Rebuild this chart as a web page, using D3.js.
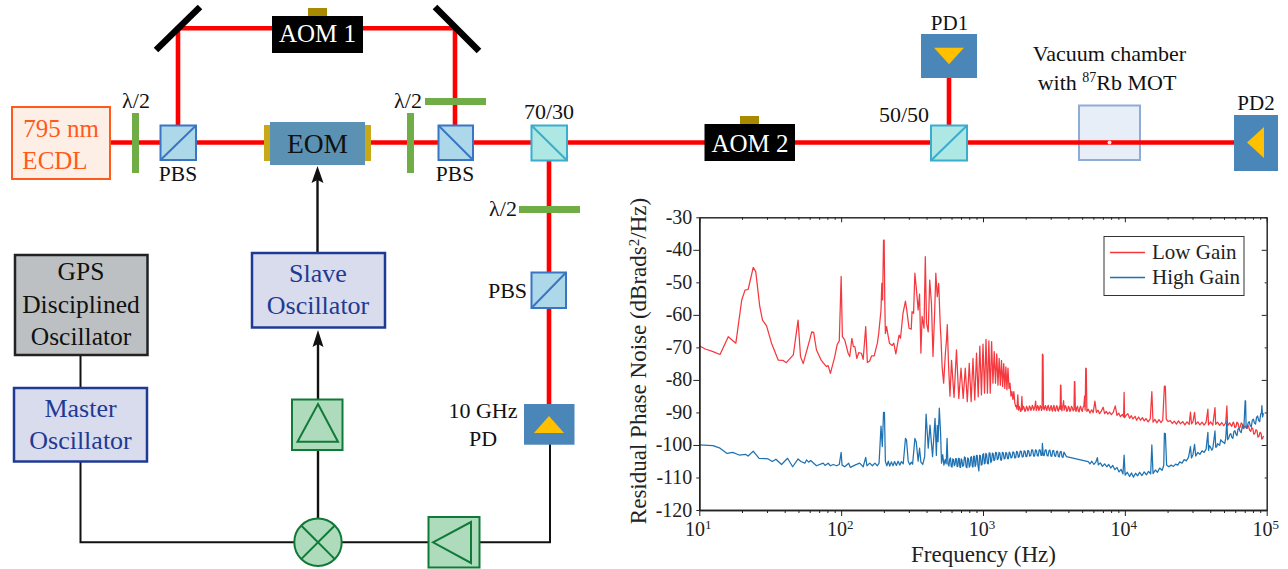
<!DOCTYPE html>
<html>
<head>
<meta charset="utf-8">
<script src="https://cdn.jsdelivr.net/npm/d3@7"></script>
<style>
  html, body { margin: 0; background: #fff; }
  text { font-family: "Liberation Serif", serif; }
</style>
</head>
<body>
<div id="d3-container"></div>
<script>
// [Hz, dBrads2/Hz]
const lowSlow = [[10,-69.5],[11,-70.5],[12.5,-71.3],[14,-72.2],[16,-66.7],[18.1,-68.7],[19.9,-55.5],[21,-52.4],[22.1,-52.2],[24,-45.4],[25,-46.7],[26.7,-57.5],[27.9,-61.6],[29.8,-63.4],[32.3,-68.7],[36,-73.9],[39,-74],[41,-74.7],[46,-72.3],[49.7,-61.6],[51.7,-72.8],[54,-75],[60,-67.7],[62,-65.2],[64,-65.4],[67,-70.8],[72.5,-74],[78.7,-75.9],[81,-75.6],[84,-78],[90,-73],[93.6,-69.2],[97,-68],[100,-48.2],[102,-66.7]];
const lowAcoustic = [[106,-67.7],[112,-71.8],[115,-72.8],[119,-67.2],[122,-69.8],[125,-69.8],[129,-73.4],[133,-71.6],[139,-71.8],[143,-73.7],[149,-63.6],[153,-74.6],[159,-74.2],[164,-72.6],[171,-72.6],[180,-68.7],[184,-65.7],[191,-58.5],[193.5,-50.3],[196,-55.4],[199,-37],[201,-37],[203,-55.4],[205,-65.7],[209,-63.6],[214,-66.2],[219,-68.7],[229,-69.4],[235,-68.7],[243,-72],[256,-66.2],[262,-67.2],[273,-59.5],[284,-55.8],[289,-58],[301,-64.1],[312,-64.4],[316,-59],[324,-59.5],[331,-47.2],[338,-51.3],[349,-58.5],[357,-53.6],[365,-71.8],[372,-60.5],[384,-64.1],[392,-42.1],[400,-62.6],[411,-65.2],[421,-49.3],[433,-56.4],[444,-72.8],[456,-59.5],[465,-47.2],[476,-54.4],[487,-50.3],[500,-63.6],[505,-66.7],[515,-75.9],[528,-81],[543,-71.8],[553,-67.7],[560,-63],[572,-75.9],[585,-85]];
const lowComb = [[600,-74],[625,-85.4],[650,-70.8],[675,-85.7],[700,-76.4],[725,-85.7],[750,-76.4],[775,-86.7],[800,-74.9],[825,-86.7],[850,-73.4],[875,-86.2],[900,-71.8],[925,-85.2],[950,-69.6],[975,-84.6],[1000,-69],[1025,-84.1],[1050,-67.5],[1075,-84.1],[1100,-68],[1125,-84.1],[1150,-68.2],[1175,-81],[1200,-71.3],[1225,-81],[1250,-72],[1275,-81.6],[1300,-73.4],[1325,-81.6],[1350,-74],[1375,-82],[1400,-75],[1425,-82.6],[1450,-76],[1475,-83],[1500,-76.4],[1525,-82.6],[1550,-81],[1575,-85],[1600,-83.6],[1625,-86],[1650,-83.6],[1675,-87]];
const lowFloor = [[1700,-88.2],[1735,-89],[1760,-84.6],[1780,-89.3],[1820,-88.7],[1860,-89.5],[1880,-85.1],[1900,-89.2],[1950,-88.6],[2000,-89.3],[2050,-88.5],[2100,-89.1],[2150,-88.4],[2200,-88.9],[2250,-88.2],[2300,-88.8],[2350,-86.5],[2400,-88.9],[2450,-88.2],[2500,-88.9],[2560,-88.3],[2610,-88.9],[2623,-72.1],[2650,-72.3],[2670,-88.7],[2730,-88.2],[2790,-89],[2850,-88.3],[2920,-89.1],[2990,-88.4],[3060,-89.2],[3130,-88.3],[3200,-89.2],[3280,-88.4],[3360,-89.2],[3440,-88.5],[3500,-89],[3520,-81.6],[3545,-81.7],[3570,-89.1],[3630,-88.2],[3700,-86.4],[3760,-88.9],[3850,-88.3],[3950,-89.4],[4050,-88.5],[4150,-89.4],[4260,-88.5],[4380,-89.1],[4410,-80.5],[4440,-80.6],[4480,-89.2],[4580,-88.5],[4700,-89.5],[4820,-88.5],[4950,-89.4],[5080,-88.4],[5200,-85],[5250,-89.3],[5300,-76.4],[5345,-76.5],[5400,-89.7],[5530,-89],[5680,-90.2],[5830,-89.2],[5980,-90.1],[6150,-86.5],[6300,-90],[6470,-89.3],[6640,-90.4],[6820,-89.6],[7030,-88.4],[7200,-90.4],[7400,-89.7],[7600,-90.5],[7800,-89.9],[8030,-90.7],[8280,-90],[8560,-88],[8800,-90.9],[9050,-90.2],[9300,-91.3],[9600,-90.6],[9800,-91.4],[9880,-83.8],[9960,-91.6],[10200,-90.9],[10500,-90.4],[10800,-91.8],[11100,-91],[11400,-92],[11800,-91.2],[12100,-92.4],[12500,-91.4],[12900,-92.4],[13300,-91.6],[13700,-92.6],[14100,-91.9],[14600,-92.9],[15100,-92],[15500,-83.6],[15800,-93],[16300,-92.1],[16800,-93.2],[17400,-92.2],[18000,-93.1],[18500,-92.3],[19000,-81.9],[19300,-82],[19600,-92.1],[20200,-92.8],[20900,-92.5],[21600,-93.4],[22300,-92.7],[23100,-93.6],[23900,-92.6],[24700,-93.5],[25600,-92.8],[26500,-93.8],[27400,-92.9],[28400,-93.7],[29000,-89.9],[29500,-93.5],[30200,-92.9],[31000,-90],[31600,-93.7],[32700,-92.9],[33800,-93.8],[35000,-93],[36200,-93.9],[37400,-93],[38500,-89],[38900,-93.8],[40200,-92.9],[41700,-93.9],[43200,-88.5],[43700,-93.7],[45000,-93],[46600,-94],[48200,-93.1],[49800,-94.1],[51400,-93.2],[52400,-88],[53000,-94.1],[54800,-93.2],[56700,-94.3],[58700,-93.3],[60700,-94.4],[62800,-93.4],[65000,-94.5],[67300,-93.6],[69000,-94.7],[70500,-94.2],[72100,-94.9],[74500,-94.3],[77100,-95.8],[79800,-95],[82500,-96.5],[85400,-95.6],[88300,-97.3],[91400,-96.5],[93500,-98],[95000,-97.2]];
// second pass over the thick parts of the red trace
const lowFloorFine = [[1715,-87.9],[1800,-88.1],[1840,-89.7],[1925,-88.1],[1975,-89.7],[2025,-88.1],[2075,-89.5],[2125,-88],[2175,-89.4],[2225,-87.8],[2275,-89.3],[2325,-88],[2375,-89.4],[2425,-87.9],[2475,-89.4],[2530,-87.9],[2585,-89.4],[2700,-89.2],[2760,-87.9],[2820,-89.4],[2885,-87.8],[2955,-89.5],[3025,-87.9],[3095,-89.6],[3165,-87.8],[3240,-89.6],[3320,-87.9],[3400,-89.6],[3470,-88.1],[3600,-89.5],[3665,-87.8],[3730,-89.3],[3800,-87.9],[3900,-89.7],[4000,-88.1],[4100,-89.7],[4200,-88.1],[4320,-89.5],[4530,-89.7],[4640,-88.1],[4760,-89.8],[4880,-88.1],[5010,-89.7],[5140,-88.1],[58000,-93],[59700,-94.7],[61700,-93],[63900,-94.8],[66100,-93.2],[68100,-94.9],[73300,-93.9],[75800,-95.5],[78400,-94.7],[81100,-96.7],[84000,-95.3],[86800,-97.6],[89800,-96.1],[92400,-98.2]];

const highSlow = [[10,-100],[12.5,-100.2],[14,-101],[15.7,-102.6],[17.2,-102.3],[19.1,-103.1],[21.3,-102.9],[22.1,-103.4],[24,-101.9],[26.4,-104.1],[30.6,-104.3],[32.7,-105.1],[34.7,-104.4],[38,-106],[41.9,-104.1],[45.5,-106.7],[49.7,-104.3],[52,-105.1],[55.5,-105.6],[57,-104.6],[59,-105.3],[61,-104.8],[67,-106.4],[74.7,-105.6],[77,-106.3],[81,-105.6],[84,-106.4],[88,-106],[93,-106.4],[97,-106],[100,-102.3],[101.5,-106.2]];
const highAcoustic = [[106,-106.7],[113,-105.6],[116,-106.9],[125,-106.2],[135,-105.6],[143,-106.7],[149,-103.8],[152,-106.4],[159,-105.6],[166,-106.4],[173,-105.6],[180,-106.4],[185,-105.6],[191,-94.2],[195,-100.5],[199,-90],[202,-90],[205,-105.1],[210,-106.4],[215,-105],[220,-106.5],[226,-105.2],[232,-106.4],[238,-105.1],[245,-106.3],[252,-105],[259,-106.2],[266,-105.1],[274,-105.8],[284,-98],[289,-98.5],[297,-105],[305,-106.1],[312,-105.3],[319,-105.9],[331,-98],[338,-99],[349,-105],[357,-101],[365,-105.3],[376,-106],[388,-103.6],[397,-90.5],[405,-96.4],[411,-101],[423,-93.9],[433,-99.5],[441,-103.6],[459,-91.8],[469,-103.2],[476,-94],[482,-99],[492,-88.7],[502,-96],[510,-105.6],[520,-103],[530,-106.2],[541,-104.5],[550,-105.8],[558,-98],[566,-105.8]];
const highNoise = [[575,-106.5],[590,-104],[605,-106.8],[620,-104.5],[635,-106],[650,-104.3],[665,-106.5],[680,-104.2],[695,-106.9],[710,-104.6],[730,-106.2],[750,-103.9],[770,-107],[790,-104.2],[810,-106.4],[830,-103.6],[850,-106.8],[870,-103.5],[890,-106.1],[910,-103.2],[935,-108],[960,-103.4],[985,-106],[1010,-102.7],[1035,-105.6],[1060,-102.9],[1090,-105.8],[1120,-102.5],[1150,-104.9],[1180,-102.7],[1210,-104.6],[1245,-102.4],[1280,-104.2],[1315,-102.5],[1350,-104.7],[1390,-102.4],[1430,-104.1],[1470,-102.6],[1510,-104.2],[1550,-102.5],[1600,-103.8],[1650,-102.3],[1700,-103.9],[1750,-102.2],[1800,-103.6],[1860,-102],[1920,-103.6],[1980,-102],[2040,-103.5],[2100,-101.8],[2170,-103.3],[2240,-101.6],[2310,-103.4],[2380,-101.7],[2450,-103.4],[2530,-101.6],[2600,-103.2],[2623,-99.5],[2660,-103.1],[2740,-101.6],[2830,-103.3],[2920,-101.7],[3010,-103.4],[3100,-101.8],[3200,-103.4],[3300,-102],[3400,-103.6],[3500,-102.1],[3610,-103.7],[3720,-102.2],[3875,-103.6]];
const highNoiseFine = [[582,-104.4],[597,-106.6],[612,-104.3],[627,-106.4],[642,-104.2],[657,-106.7],[672,-104.1],[687,-106.8],[702,-104.3],[720,-106.6],[740,-103.7],[760,-106.7],[780,-104],[800,-106.8],[820,-103.8],[840,-106.5],[860,-103.4],[880,-106.6],[900,-103.2],[922,-106.4],[947,-103.1],[972,-106.2],[997,-102.9],[1022,-105.8],[1047,-102.6],[1075,-105.7],[1105,-102.4],[1135,-105.4],[1165,-102.5],[1195,-104.8],[1227,-102.3],[1262,-104.5],[1297,-102.3],[1332,-104.6],[1370,-102.3],[1410,-104.3],[1450,-102.3],[1490,-104.2],[1530,-102.2],[1575,-104],[1625,-102.1],[1675,-104],[1725,-102],[1775,-103.8],[1830,-101.9],[1890,-103.7],[1950,-101.8],[2010,-103.6],[2070,-101.7],[2135,-103.4],[2205,-101.5],[2275,-103.4],[2345,-101.5],[2415,-103.3],[2490,-101.5],[2565,-103.2],[2700,-103.3],[2785,-101.5],[2875,-103.4],[2965,-101.6],[3055,-103.5],[3150,-101.7],[3250,-103.5],[3350,-101.9],[3450,-103.7],[3555,-102],[3665,-103.8]];
const highFloor = [[5510,-105.1],[5680,-105.8],[5850,-105],[6050,-106],[6240,-105.3],[6400,-103.9],[6500,-106.1],[6720,-105.5],[6950,-106.6],[7200,-105.8],[7450,-106.7],[7700,-106],[7950,-107.1],[8220,-106.3],[8500,-107.6],[8800,-106.9],[9100,-108.3],[9400,-107.5],[9700,-108.9],[9880,-103.1],[10050,-109.3],[10400,-108.4],[10800,-109.7],[11150,-108.6],[11500,-109.9],[11900,-108.7],[12300,-109.5],[12700,-108.4],[13200,-109.4],[13700,-108.3],[14200,-109.2],[14700,-108.1],[15200,-108.9],[15500,-100],[15800,-108.8],[16400,-107.7],[17000,-108.4],[17600,-107.1],[18300,-107.8],[18800,-106.4],[19000,-96.4],[19300,-96.5],[19700,-106.2],[20400,-106.7],[21200,-106.2],[22000,-106.6],[22800,-105.9],[23600,-106.2],[24400,-105.2],[25300,-105.6],[26200,-104.5],[27100,-104.9],[28100,-103.8],[29000,-100.5],[29500,-104],[30200,-103],[31000,-99.8],[31600,-103.4],[32700,-102.3],[33800,-102.9],[35000,-101.8],[36200,-102.3],[37400,-101.3],[38500,-96.1],[38900,-101.7],[40200,-100.7],[41700,-101.1],[43200,-95.7],[43700,-100.7],[45000,-99.6],[46600,-100.1],[48200,-98.8],[49800,-99.3],[51400,-97.9],[52400,-92.6],[53000,-98.4],[54800,-96.9],[56700,-97.6],[58700,-95.9],[60700,-96.7],[62800,-95.1],[65000,-95.9],[67300,-94.2],[69000,-95],[70500,-86.4],[71000,-86.5],[71600,-94.6],[74000,-93.2],[76600,-94.1],[79200,-92.4],[82000,-93.3],[84800,-91.5],[87700,-92.4],[90700,-90.5],[92500,-87.9],[93500,-91.4],[95000,-90.2]];
const highFloorFine = [[39500,-100.2],[41000,-101.6],[44400,-100.6],[47400,-98.4],[50600,-99.6],[54000,-97.9],[55800,-96.5],[57700,-98],[59700,-95.6],[61700,-97.1],[63900,-94.9],[66100,-96.2],[68100,-93.9],[72800,-94.9],[75300,-92.8],[77900,-94.4],[80600,-92.1],[83400,-93.6],[86200,-91.1],[89200,-92.8],[91900,-90.1]];

const byFreq = (a, b) => d3.ascending(a[0], b[0]);
const lowGain = [...lowSlow, ...lowAcoustic, ...lowComb, ...lowFloor, ...lowFloorFine].sort(byFreq);
const highGain = [...highSlow, ...highAcoustic, ...highNoise, ...highNoiseFine, ...highFloor, ...highFloorFine].sort(byFreq);

const yTicks = [-30, -40, -50, -60, -70, -80, -90, -100, -110, -120];
const yMajor = [-40, -60, -80, -100];
const xDecades = [10, 100, 1000, 10000, 100000];
const xExponents = [1, 2, 3, 4, 5];
const xMinor = [];
[10, 100, 1000, 10000].forEach(d => [2, 3, 4, 5, 6, 7, 8, 9].forEach(m => xMinor.push(d * m)));

const width = 1288;
const height = 569;
const plot = { left: 699.3, right: 1266.7, top: 217.3, bottom: 510 };

const svg = d3.select('#d3-container')
  .append('svg')
  .attr('width', width)
  .attr('height', height)
  .style('display', 'block');

const schematic = svg.append('g');
const chart = svg.append('g');

// ---------- noise plot ----------
const x = d3.scaleLog().domain([10, 100000]).range([plot.left, plot.right]);
const y = d3.scaleLinear().domain([-120, -30]).range([plot.bottom, plot.top]);

const line = d3.line().x(d => x(d[0])).y(d => y(d[1]));

chart.append('path').datum(lowGain)
  .attr('d', line).attr('fill', 'none')
  .attr('stroke', '#f5383e').attr('stroke-width', 1.25).attr('stroke-linejoin', 'round');
chart.append('path').datum(highGain)
  .attr('d', line).attr('fill', 'none')
  .attr('stroke', '#1f72b2').attr('stroke-width', 1.25).attr('stroke-linejoin', 'round');

function styleAxis(g, w) {
  g.selectAll('text').remove();
  g.select('.domain').attr('stroke', '#222').attr('stroke-width', w);
  g.selectAll('.tick line').attr('stroke', '#222').attr('stroke-width', 1);
}
const yMinorVals = yTicks.filter(v => !yMajor.includes(v));

chart.append('g').attr('transform', `translate(0,${plot.top})`)
  .call(d3.axisTop(x).tickValues(xDecades).tickSize(-5).tickSizeOuter(0)).call(styleAxis, 1);
chart.append('g').attr('transform', `translate(0,${plot.top})`)
  .call(d3.axisTop(x).tickValues(xMinor).tickSize(-2.5).tickSizeOuter(0)).call(styleAxis, 1);
chart.append('g').attr('transform', `translate(${plot.right},0)`)
  .call(d3.axisRight(y).tickValues(yMajor).tickSize(-5).tickSizeOuter(0)).call(styleAxis, 1);
chart.append('g').attr('transform', `translate(${plot.right},0)`)
  .call(d3.axisRight(y).tickValues(yMinorVals).tickSize(-2).tickSizeOuter(0)).call(styleAxis, 1);
chart.append('g').attr('transform', `translate(0,${plot.bottom})`)
  .call(d3.axisBottom(x).tickValues(xDecades).tickSize(6).tickSizeOuter(0)).call(styleAxis, 1.4);
chart.append('g').attr('transform', `translate(0,${plot.bottom})`)
  .call(d3.axisBottom(x).tickValues(xMinor).tickSize(3).tickSizeOuter(0)).call(styleAxis, 1.4);
chart.append('g').attr('transform', `translate(${plot.left},0)`)
  .call(d3.axisLeft(y).tickValues(yMajor).tickSize(6).tickSizeOuter(0)).call(styleAxis, 1.4);
chart.append('g').attr('transform', `translate(${plot.left},0)`)
  .call(d3.axisLeft(y).tickValues(yMinorVals).tickSize(3).tickSizeOuter(0)).call(styleAxis, 1.4);

chart.selectAll('.ylab').data(yTicks).join('text')
  .attr('class', 'ylab')
  .attr('x', plot.left - 7).attr('y', d => y(d) + 6.5)
  .attr('text-anchor', 'end').attr('font-size', 20).attr('fill', '#222')
  .text(d => d);

const xLabs = chart.selectAll('.xlab').data(xDecades).join('text')
  .attr('class', 'xlab')
  .attr('x', d => x(d) - 1).attr('y', plot.bottom + 26)
  .attr('text-anchor', 'middle').attr('font-size', 20).attr('fill', '#222');
xLabs.append('tspan').text('10');
xLabs.append('tspan').attr('dy', -7).attr('font-size', 13).text((d, i) => xExponents[i]);

chart.append('text').attr('x', 983.5).attr('y', 562)
  .attr('text-anchor', 'middle').attr('font-size', 23).attr('fill', '#222')
  .text('Frequency (Hz)');

const yTitle = chart.append('text')
  .attr('transform', 'translate(646,361) rotate(-90)')
  .attr('text-anchor', 'middle').attr('font-size', 23).attr('fill', '#222');
yTitle.append('tspan').text('Residual Phase Noise (dBrads');
yTitle.append('tspan').attr('dy', -7).attr('font-size', 15).text('2');
yTitle.append('tspan').attr('dy', 7).text('/Hz)');

// legend
const legend = chart.append('g');
legend.append('rect').attr('x', 1104).attr('y', 236.5).attr('width', 140).attr('height', 59)
  .attr('fill', '#fff').attr('stroke', '#333').attr('stroke-width', 1);
const legendNames = ['Low Gain', 'High Gain'];
const legendColors = ['#f5383e', '#1f72b2'];
const legendY = [252.5, 277.5];
legendNames.forEach((name, i) => {
  legend.append('line').attr('x1', 1110).attr('x2', 1145).attr('y1', legendY[i]).attr('y2', legendY[i])
    .attr('stroke', legendColors[i]).attr('stroke-width', 1.3);
  legend.append('text').attr('x', 1152).attr('y', legendY[i] + 6)
    .attr('font-size', 21).attr('fill', '#222').text(name);
});

// ---------- optics schematic ----------
const RED = '#ff0000', GREEN = '#70ad47', DARKGREEN = '#107a38', AMP = '#aedbbb';

function rect(x0, y0, x1, y1, fill, stroke, sw) {
  return schematic.append('rect').attr('x', x0).attr('y', y0)
    .attr('width', x1 - x0).attr('height', y1 - y0)
    .attr('fill', fill).attr('stroke', stroke || 'none').attr('stroke-width', sw || 0);
}
function seg(pts, color, w) {
  return schematic.append('path').attr('d', d3.line()(pts))
    .attr('fill', 'none').attr('stroke', color).attr('stroke-width', w);
}
function poly(pts, fill, stroke, sw) {
  return schematic.append('path').attr('d', d3.line()(pts) + 'Z')
    .attr('fill', fill).attr('stroke', stroke || 'none').attr('stroke-width', sw || 0);
}
function label(str, cx, by, size, color, anchor) {
  return schematic.append('text').attr('x', cx).attr('y', by)
    .attr('text-anchor', anchor || 'middle').attr('font-size', size)
    .attr('fill', color || '#111').text(str);
}
function cube(x0, y0, x1, y1, fill, stroke, rising) {
  rect(x0, y0, x1, y1, fill, stroke, 2);
  seg(rising ? [[x0, y1], [x1, y0]] : [[x0, y0], [x1, y1]], stroke, 2);
}

// beams
seg([[110, 142.5], [1235, 142.5]], RED, 4.6);
seg([[178, 125], [178, 28.3], [455, 28.3], [455, 125]], RED, 4.6);
seg([[949, 78], [949, 125]], RED, 4.6);
seg([[549, 160], [549, 404]], RED, 4.6);

// electronics wires
seg([[80.5, 355], [80.5, 388]], '#111', 2);
seg([[80.5, 461], [80.5, 542.3], [550, 542.3], [550, 444]], '#111', 2);
seg([[318, 518], [318, 340]], '#111', 2.4);
seg([[317.5, 253], [317.5, 178]], '#111', 2.4);
poly([[318, 330], [323.5, 347], [318, 344], [312.5, 347]], '#111');
poly([[317.5, 166], [323.5, 183], [317.5, 180], [311.5, 183]], '#111');

// laser
rect(12, 107, 110, 179, '#fdeee6', '#ff5a1a', 2);
label('795 nm', 61, 137, 25, '#ff5a1a');
label('ECDL', 55, 169, 25, '#ff5a1a');

// mirrors
seg([[156, 50], [200, 7]], '#000', 6.5);
seg([[435, 7], [479, 51]], '#000', 6.5);

// AOMs
rect(308, 8, 327, 17, '#a98900');
rect(272, 16, 363, 53, '#000');
label('AOM 1', 317.5, 42, 25, '#fff');
rect(740, 116, 759, 125, '#a98900');
rect(704.5, 124, 795, 161, '#000');
label('AOM 2', 750, 152, 25, '#fff');

// waveplates
rect(132, 113, 139, 173, GREEN);
label('λ/2', 136, 108, 22);
rect(407, 113, 414, 173, GREEN);
label('λ/2', 408, 108, 22);
rect(425, 98, 486, 105, GREEN);
rect(519, 206, 580, 213, GREEN);
label('λ/2', 503, 216, 22);

// beam splitters
cube(160.5, 125.5, 196, 160, '#add8e9', '#3a75c4', true);
label('PBS', 178, 181, 21.5);
cube(438.5, 125.5, 473, 160, '#add8e9', '#3a75c4', false);
label('PBS', 455, 181, 21.5);
cube(531.5, 125.5, 567, 160.5, '#aee8e4', '#3aaccc', false);
label('70/30', 549, 118.5, 22);
cube(931, 125.5, 967, 160.5, '#aee8e4', '#3aaccc', true);
label('50/50', 904, 122, 22);
cube(531.5, 272.5, 566, 308, '#add8e9', '#3a75c4', true);
label('PBS', 507.5, 298, 22);

// EOM
rect(264, 125, 270, 161, '#c8a816');
rect(365, 125, 371, 161, '#c8a816');
rect(270, 122, 365, 165, '#5b91b2');
label('EOM', 317.5, 153, 27.5);

// photodiodes
rect(921, 34, 977, 78, '#4a86b8');
poly([[934, 47.7], [964, 47.7], [949, 64.3]], '#ffc000');
label('PD1', 949.5, 30, 21);
rect(1234, 115, 1278, 171, '#4a86b8');
poly([[1247, 142.5], [1264, 127], [1264, 158]], '#ffc000');
label('PD2', 1256, 110, 21);
rect(524, 404, 574.5, 444.7, '#4a86b8');
poly([[549, 416], [564, 433], [534, 433]], '#ffc000');
label('10 GHz', 483, 417.7, 22);
label('PD', 483, 446, 22);

// vacuum chamber drawn under the beam
schematic.insert('rect', ':first-child')
  .attr('x', 1079).attr('y', 105.5).attr('width', 61).attr('height', 54.5)
  .attr('fill', '#e8eef7').attr('stroke', '#8fabd8').attr('stroke-width', 2);
schematic.append('circle').attr('cx', 1109.5).attr('cy', 142.5).attr('r', 2).attr('fill', '#ffe4e4');
label('Vacuum chamber', 1109.5, 61, 22);
const mot = label('with ', 1107, 90, 22);
mot.append('tspan').attr('dy', -8).attr('font-size', 14).text('87');
mot.append('tspan').attr('dy', 8).text('Rb MOT');

// oscillators
rect(15, 255, 147.5, 355, '#bcc0c2', '#222', 2.5);
label('GPS', 81, 280, 25.5);
label('Disciplined', 81, 313, 25.5);
label('Oscillator', 81, 345, 25.5);
rect(14, 388, 147, 461.5, '#d8dcec', '#1f3a93', 2.5);
label('Master', 80.5, 417, 26, '#1f3a93');
label('Oscillator', 80.5, 449, 26, '#1f3a93');
rect(252, 253, 385, 327.5, '#d8dcec', '#1f3a93', 2.5);
label('Slave', 318, 282, 26, '#1f3a93');
label('Oscillator', 318, 314, 26, '#1f3a93');

// amplifiers and mixer
rect(292, 399.5, 342.5, 450, AMP, DARKGREEN, 2);
poly([[318, 404], [338, 441.7], [297.5, 441.7]], 'none', DARKGREEN, 2);
rect(428.5, 517, 479.5, 567.5, AMP, DARKGREEN, 2);
poly([[433, 542.3], [471, 522], [471, 563]], 'none', DARKGREEN, 2);
schematic.append('circle').attr('cx', 318).attr('cy', 542.3).attr('r', 23.7)
  .attr('fill', AMP).attr('stroke', DARKGREEN).attr('stroke-width', 2);
seg([[301.2, 525.5], [334.8, 559.1]], DARKGREEN, 2);
seg([[334.8, 525.5], [301.2, 559.1]], DARKGREEN, 2);
</script>
</body>
</html>
